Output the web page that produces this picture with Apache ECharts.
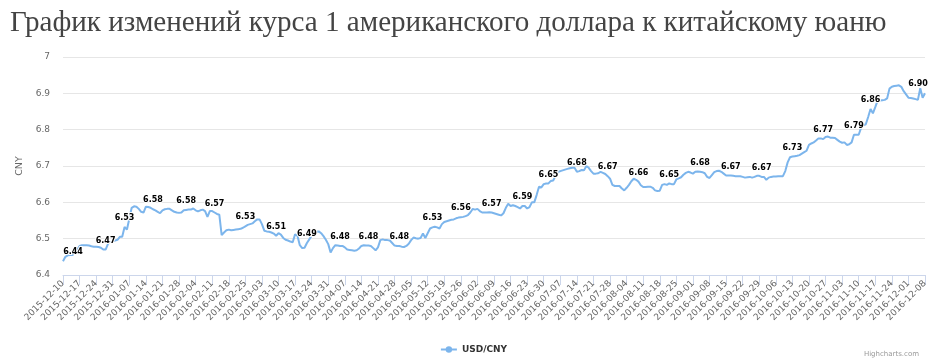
<!DOCTYPE html>
<html>
<head>
<meta charset="utf-8">
<script src="https://cdn.jsdelivr.net/npm/echarts@6/dist/echarts.min.js"></script>
<style>
html,body{margin:0;padding:0;background:#fff;}
#chart{width:947px;height:360px;}
</style>
</head>
<body>
<div id="chart"></div>
<script>
var titleText = 'График изменений курса 1 американского доллара к китайскому юаню';
var seriesName = 'USD/CNY';
var axisName = 'CNY';
var startDate = '2015-12-10';
var yTicks = [6.4, 6.5, 6.6, 6.7, 6.8, 6.9, 7];

// daily USD/CNY, one row per week starting 2015-12-10
var usdCny = [
  6.438, 6.450, 6.454, 6.455, 6.455, 6.460, 6.470,
  6.480, 6.482, 6.482, 6.482, 6.481, 6.479, 6.478,
  6.478, 6.477, 6.475, 6.470, 6.470, 6.486, 6.490,
  6.493, 6.495, 6.497, 6.505, 6.505, 6.532, 6.525,
  6.555, 6.585, 6.589, 6.588, 6.582, 6.574, 6.572,
  6.588, 6.587, 6.585, 6.581, 6.578, 6.574, 6.570,
  6.578, 6.581, 6.582, 6.582, 6.578, 6.574, 6.572,
  6.571, 6.572, 6.578, 6.579, 6.580, 6.580, 6.583,
  6.578, 6.575, 6.578, 6.580, 6.576, 6.560, 6.576,
  6.576, 6.572, 6.568, 6.566, 6.510, 6.517, 6.523,
  6.525, 6.523, 6.524, 6.525, 6.526, 6.527, 6.530,
  6.534, 6.538, 6.540, 6.542, 6.548, 6.553, 6.553,
  6.540, 6.522, 6.520, 6.519, 6.517, 6.514, 6.508,
  6.515, 6.511, 6.502, 6.497, 6.495, 6.492, 6.490,
  6.512, 6.508, 6.482, 6.474, 6.475, 6.488, 6.498,
  6.508, 6.517, 6.519, 6.520, 6.515, 6.507, 6.497,
  6.485, 6.462, 6.474, 6.482, 6.481, 6.480, 6.480,
  6.476, 6.470, 6.469, 6.468, 6.467, 6.468, 6.473,
  6.480, 6.482, 6.481, 6.481, 6.480, 6.474, 6.468,
  6.476, 6.496, 6.498, 6.496, 6.496, 6.495, 6.488,
  6.481, 6.480, 6.480, 6.478, 6.477, 6.480, 6.486,
  6.496, 6.503, 6.501, 6.500, 6.502, 6.514, 6.502,
  6.515, 6.528, 6.531, 6.533, 6.531, 6.528, 6.540,
  6.546, 6.548, 6.550, 6.552, 6.553, 6.556, 6.558,
  6.559, 6.560, 6.562, 6.565, 6.572, 6.582, 6.580,
  6.582, 6.576, 6.572, 6.572, 6.572, 6.573, 6.572,
  6.570, 6.568, 6.566, 6.564, 6.570, 6.585, 6.596,
  6.590, 6.592, 6.590, 6.587, 6.583, 6.590, 6.590,
  6.583, 6.587, 6.600, 6.600, 6.620, 6.643, 6.641,
  6.650, 6.652, 6.652, 6.659, 6.660, 6.673, 6.683,
  6.686, 6.688, 6.690, 6.692, 6.694, 6.695, 6.695,
  6.684, 6.686, 6.689, 6.688, 6.700, 6.695, 6.686,
  6.679, 6.679, 6.680, 6.684, 6.681, 6.678, 6.672,
  6.665, 6.648, 6.645, 6.645, 6.645, 6.638, 6.633,
  6.640, 6.648, 6.658, 6.665, 6.662, 6.657, 6.647,
  6.642, 6.642, 6.643, 6.643, 6.640, 6.633, 6.631,
  6.632, 6.648, 6.650, 6.648, 6.652, 6.650, 6.650,
  6.663, 6.666, 6.669, 6.676, 6.681, 6.684, 6.682,
  6.679, 6.684, 6.685, 6.684, 6.683, 6.680, 6.670,
  6.667, 6.675, 6.683, 6.686, 6.687, 6.684, 6.679,
  6.674, 6.674, 6.674, 6.673, 6.672, 6.672, 6.672,
  6.670, 6.668, 6.669, 6.670, 6.668, 6.670, 6.673,
  6.673, 6.670, 6.670, 6.662, 6.668, 6.670, 6.671,
  6.671, 6.672, 6.672, 6.672, 6.686, 6.710, 6.724,
  6.726, 6.727, 6.728, 6.730, 6.734, 6.738, 6.742,
  6.758, 6.762, 6.765, 6.770, 6.776, 6.776, 6.774,
  6.780, 6.781, 6.778, 6.778, 6.777, 6.772, 6.767,
  6.764, 6.765, 6.758, 6.760, 6.765, 6.786, 6.786,
  6.786, 6.805, 6.812, 6.815, 6.835, 6.857, 6.845,
  6.862, 6.880, 6.880, 6.881, 6.882, 6.886, 6.913,
  6.918, 6.920, 6.921, 6.922, 6.918, 6.906, 6.897,
  6.888, 6.887, 6.886, 6.884, 6.882, 6.914, 6.888,
  6.900
];

// indices (days from start) of points that carry a visible value label
var labelDays = [0, 18, 26, 38, 52, 64, 77, 90, 103, 117, 129, 142, 156, 168, 181,
  194, 205, 217, 230, 243, 256, 269, 282, 295, 308, 321, 334, 341, 364];

// build day categories
function pad(n){ return (n < 10 ? '0' : '') + n; }
var p = startDate.split('-');
var t0 = Date.UTC(+p[0], +p[1] - 1, +p[2]);
var dates = usdCny.map(function(_, i){
  var d = new Date(t0 + i * 86400000);
  return d.getUTCFullYear() + '-' + pad(d.getUTCMonth() + 1) + '-' + pad(d.getUTCDate());
});

var lastIdx = usdCny.length - 1;
var seriesData = usdCny.map(function(v, i){
  if (labelDays.indexOf(i) < 0) return v;
  var off = [0, 0];
  if (i === 0) off = [10, 0];
  if (i === lastIdx) off = [-7, 0];
  return { value: v, label: { show: true, offset: off } };
});

var chart = echarts.init(document.getElementById('chart'), null, { renderer: 'canvas' });
chart.setOption({
  animation: false,
  backgroundColor: '#ffffff',
  title: {
    text: titleText,
    left: 5,
    top: 4,
    textStyle: { fontFamily: 'Liberation Serif', fontWeight: 'normal', fontSize: 29.1, color: '#444444' }
  },
  grid: { left: 63, right: 22, top: 57, bottom: 85 },
  legend: {
    data: [seriesName],
    bottom: 1,
    left: 'center',
    itemWidth: 16,
    itemHeight: 8,
    itemGap: 4,
    textStyle: { fontFamily: 'DejaVu Sans', fontSize: 9, fontWeight: 'bold', color: '#333333' }
  },
  xAxis: {
    type: 'category',
    data: dates,
    boundaryGap: false,
    axisLine: { lineStyle: { color: '#ccd6eb' } },
    axisTick: { interval: 6, length: 10, lineStyle: { color: '#ccd6eb' } },
    axisLabel: {
      interval: 6,
      rotate: 45,
      margin: 7,
      fontFamily: 'DejaVu Sans',
      fontSize: 9,
      color: '#666666'
    },
    splitLine: { show: false }
  },
  yAxis: {
    type: 'value',
    min: yTicks[0],
    max: yTicks[yTicks.length - 1],
    interval: 0.1,
    name: axisName,
    nameLocation: 'middle',
    nameGap: 36,
    nameTextStyle: { fontFamily: 'DejaVu Sans', fontSize: 9.5, color: '#666666' },
    axisLine: { show: false },
    axisTick: { show: false },
    axisLabel: {
      margin: 13,
      fontFamily: 'DejaVu Sans',
      fontSize: 9,
      color: '#666666',
      formatter: function(v){ return String(+v.toFixed(1)); }
    },
    splitLine: { lineStyle: { color: '#e6e6e6', width: 1 } }
  },
  series: [{
    name: seriesName,
    type: 'line',
    data: seriesData,
    color: '#7cb5ec',
    symbol: 'circle',
    symbolSize: 0,
    showSymbol: true,
    showAllSymbol: true,
    lineStyle: { width: 2, color: '#7cb5ec' },
    itemStyle: { color: '#7cb5ec' },
    label: {
      show: false,
      position: 'top',
      distance: 5,
      fontFamily: 'DejaVu Sans',
      fontSize: 8,
      fontWeight: 'bold',
      color: '#000000',
      textBorderColor: '#ffffff',
      textBorderWidth: 2,
      formatter: function(pr){ return pr.value.toFixed(2); }
    },
    emphasis: { disabled: true }
  }],
  graphic: [{
    type: 'text',
    right: 28,
    bottom: 2,
    style: { text: 'Highcharts.com', fontFamily: 'DejaVu Sans', fontSize: 7, fill: '#999999' }
  }]
});
</script>
</body>
</html>
